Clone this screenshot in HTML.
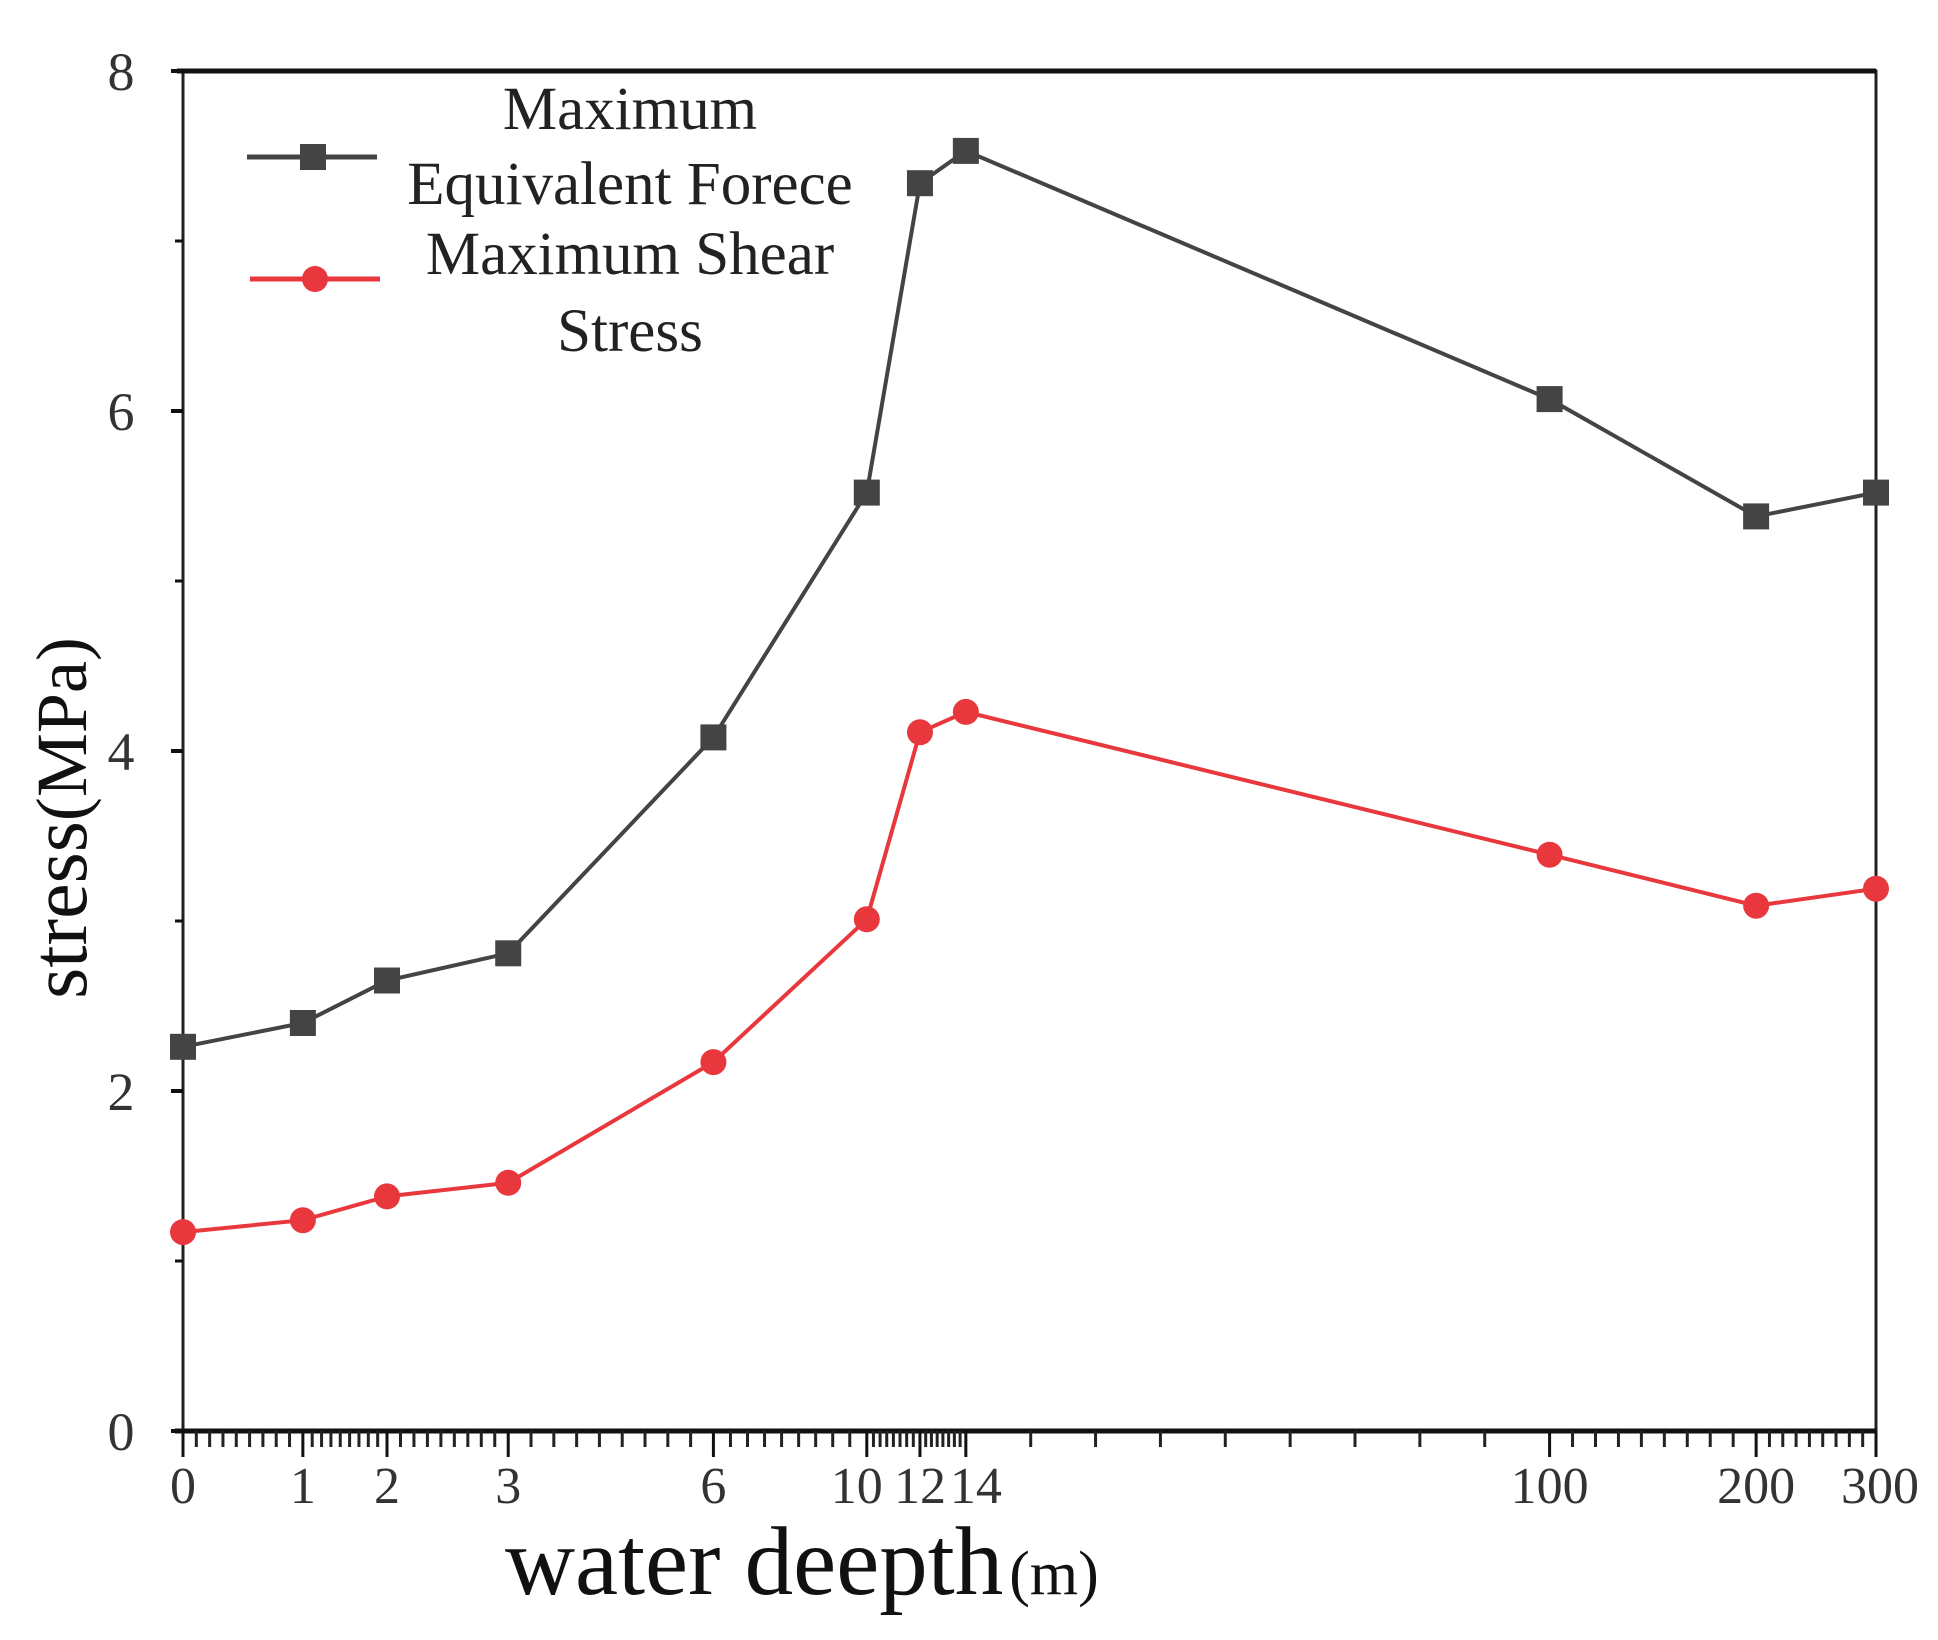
<!DOCTYPE html>
<html><head><meta charset="utf-8"><style>
html,body{margin:0;padding:0;background:#fff;}
svg{display:block;font-family:"Liberation Serif",serif;}
</style></head><body>
<svg id="chart" width="1938" height="1640" viewBox="0 0 1938 1640">
<g id="axes"></g>
<g id="series"></g>
<g>
  <line x1="247" y1="157" x2="377" y2="157" stroke="#444" stroke-width="5"/>
  <rect x="300" y="144" width="26" height="26" fill="#444"/>
  <line x1="250" y1="279" x2="380" y2="279" stroke="#e8383d" stroke-width="5"/>
  <circle cx="315" cy="279" r="13" fill="#e8383d"/>
  <g font-size="61" text-anchor="middle" fill="#222">
    <text x="630" y="129">Maximum</text>
    <text x="630" y="204">Equivalent Forece</text>
    <text x="630" y="274">Maximum Shear</text>
    <text x="630" y="351">Stress</text>
  </g>
</g>
<text transform="translate(86,818) rotate(-90)" font-size="80" text-anchor="middle" fill="#111">stress<tspan font-size="72">(MPa)</tspan></text>
<text x="505" y="1594" font-size="97" fill="#111">water deepth<tspan font-size="62" dx="6">(m)</tspan></text>
</svg>
<script>
const categories = [0, 1, 2, 3, 6, 10, 12, 14, 100, 200, 300];
const equivalentValues = [2.26, 2.40, 2.65, 2.81, 4.08, 5.52, 7.34, 7.53, 6.07, 5.38, 5.52];
const shearValues = [1.17, 1.24, 1.38, 1.46, 2.17, 3.01, 4.11, 4.23, 3.39, 3.09, 3.19];
const yTicks = [0, 2, 4, 6, 8];
const xTickLabels = ["0", "1", "2", "3", "6", "10", "12", "14", "100", "200", "300"];

const NS = "http://www.w3.org/2000/svg";
const L = 183, R = 1876, T = 71, B = 1431;
const xKnots = [0, 1, 2, 3, 6, 10, 12, 14, 100, 200, 300];
const xFrac = [0, 0.0708, 0.1205, 0.1921, 0.3133, 0.4039, 0.4353, 0.4624, 0.8072, 0.9292, 1];
function xScale(v) {
  for (let i = 0; i < xKnots.length - 1; i++) {
    if (v <= xKnots[i + 1]) {
      const t = (v - xKnots[i]) / (xKnots[i + 1] - xKnots[i]);
      return L + (xFrac[i] + t * (xFrac[i + 1] - xFrac[i])) * (R - L);
    }
  }
  return R;
}
function yScale(v) { return B - v / 8 * (B - T); }
function mk(tag, attrs, parent) {
  const e = document.createElementNS(NS, tag);
  for (const k in attrs) e.setAttribute(k, attrs[k]);
  parent.appendChild(e);
  return e;
}
const axes = document.getElementById("axes");
const frame = mk("rect", {x: L, y: T, width: R - L, height: B - T, fill: "none", stroke: "#222", "stroke-width": 3}, axes);


const topLine = mk("line", {x1: L - 6, y1: T, x2: R, y2: T, stroke: "#111", "stroke-width": 5}, axes);


const botLine = mk("line", {x1: L - 8, y1: B, x2: R, y2: B, stroke: "#111", "stroke-width": 5}, axes);


yTicks.forEach(v => {
  const y = yScale(v);
  const tk = mk("line", {x1: L - 12, y1: y, x2: L, y2: y, stroke: "#111", "stroke-width": 4}, axes);
  
  
  const tx = mk("text", {x: L - 62, y: y + 19, "font-size": 54, "text-anchor": "middle", fill: "#333"}, axes);
  tx.textContent = String(v);
  
  
  if (v < 8) {
    const mt = mk("line", {x1: L - 8, y1: yScale(v + 1), x2: L, y2: yScale(v + 1), stroke: "#111", "stroke-width": 3}, axes);
    
    
  }
});
for (let i = 0; i < xKnots.length - 1; i++) {
  const a = xScale(xKnots[i]), b = xScale(xKnots[i + 1]);
  const n = (i >= 5 && i <= 6) ? 8 : 9;
  for (let j = 1; j < n; j++) {
    const x = a + (b - a) * j / n;
    const mt = mk("line", {x1: x, y1: B, x2: x, y2: B + 16, stroke: "#222", "stroke-width": 3}, axes);
    
    
  }
}
categories.forEach((c, i) => {
  const x = xScale(c);
  const tk = mk("line", {x1: x, y1: B, x2: x, y2: B + 26, stroke: "#111", "stroke-width": 3}, axes);
  
  
  let dx = 0;
  if (c === 10) dx = -10; if (c === 14) dx = 10; if (c === 300) dx = 4;
  const tx = mk("text", {x: x + dx, y: B + 72, "font-size": 52, "text-anchor": "middle", fill: "#333"}, axes);
  tx.textContent = xTickLabels[i];
  
  
});
const series = document.getElementById("series");
function drawSeries(vals, color, shape, name) {
  const g = mk("g", {}, series);
  
  
  const pts = vals.map((v, i) => xScale(categories[i]) + "," + yScale(v)).join(" ");
  const pl = mk("polyline", {points: pts, fill: "none", stroke: color, "stroke-width": 4}, g);
  
  
  vals.forEach((v, i) => {
    const x = xScale(categories[i]), y = yScale(v);
    let m;
    if (shape === "square") m = mk("rect", {x: x - 13, y: y - 13, width: 26, height: 26, fill: color}, g);
    else m = mk("circle", {cx: x, cy: y, r: 13, fill: color}, g);
    
    
  });
}
drawSeries(equivalentValues, "#444", "square", "equivalent-force");
drawSeries(shearValues, "#e8383d", "circle", "shear-stress");
</script>
</body></html>
